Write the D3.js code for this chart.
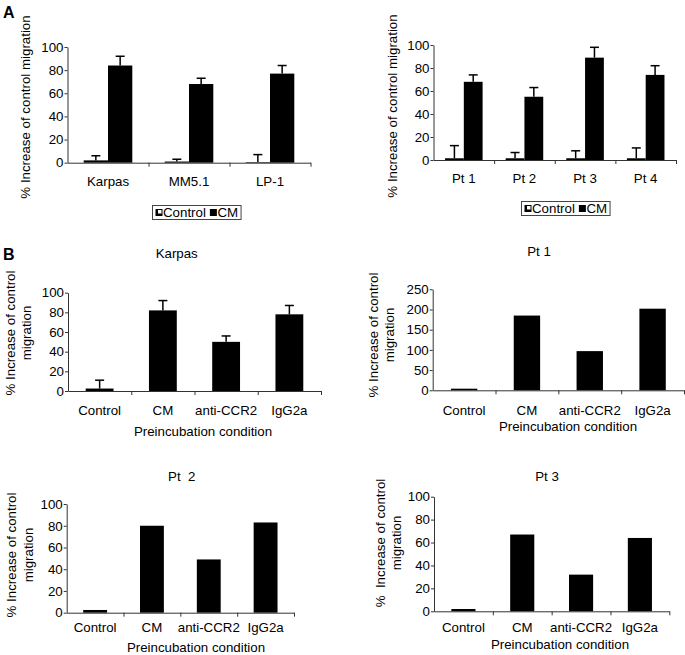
<!DOCTYPE html>
<html><head><meta charset="utf-8">
<script src="https://cdn.jsdelivr.net/npm/d3@7/dist/d3.min.js"></script>
<style>
body{margin:0;background:#fff;}
svg{display:block;font-family:"Liberation Sans",Arial,Helvetica,sans-serif;}
text{white-space:pre;}
</style></head>
<body><svg id="c" width="685" height="655"></svg>
<script>
// ---------- data ----------
const seriesNames = ["Control", "CM"];

const aCellLines = ["Karpas", "MM5.1", "LP-1"];
const aCellControl = [2, 1, 0.5];
const aCellControlErr = [4, 2, 6.5];
const aCellCM = [84, 68, 77];
const aCellCMErr = [8, 5, 7];

const aPatients = ["Pt 1", "Pt 2", "Pt 3", "Pt 4"];
const aPatControl = [1.5, 1.5, 1.5, 1.5];
const aPatControlErr = [11, 5, 6.5, 9];
const aPatCM = [68, 55, 89, 74];
const aPatCMErr = [6, 8, 9, 8];

const conditions = ["Control", "CM", "anti-CCR2", "IgG2a"];
const bKarpas = [2.5, 82, 50, 78];
const bKarpasErr = [8.5, 10, 6, 9];
const bPt1 = [4, 185, 97, 202];
const bPt2 = [2.5, 80, 49, 83];
const bPt3 = [2, 67, 32, 64];

const yTicks100 = [0, 20, 40, 60, 80, 100];
const yTicks250 = [0, 50, 100, 150, 200, 250];

// ---------- drawing ----------
const svg = d3.select("#c");
const FS = 13.3;
const AX = "#333";

function axes(g, cfg, xBand, y, cats) {
  // y axis
  const ya = g.append("g").attr("transform", `translate(${cfg.x0},0)`)
    .call(d3.axisLeft(y).tickValues(cfg.yTicks).tickSize(3).tickSizeOuter(0).tickPadding(1));
  ya.select(".domain").attr("stroke", AX);
  ya.selectAll(".tick line").attr("stroke", AX);
  ya.selectAll("text").attr("font-size", FS).attr("fill", "#000").attr("font-family", null);
  // x boundary ticks
  const xb = d3.scaleLinear().domain([0, cats.length]).range([cfg.x0, cfg.x1]);
  const xa = g.append("g").attr("transform", `translate(0,${cfg.yb})`)
    .call(d3.axisBottom(xb).tickValues(d3.range(1, cats.length + 1)).tickFormat("").tickSize(4).tickSizeOuter(0));
  xa.select(".domain").attr("stroke", AX);
  xa.selectAll(".tick line").attr("stroke", AX);
  // x labels
  const xl = g.append("g").attr("transform", `translate(0,${cfg.yb})`)
    .call(d3.axisBottom(xBand).tickSize(0).tickPadding(cfg.lblPad));
  xl.select(".domain").remove();
  xl.selectAll("text").attr("font-size", FS).attr("fill", "#000").attr("font-family", null);
}

function ylabel(g, lines, cx, cy, gap) {
  lines.forEach((t, i) => {
    g.append("text")
      .attr("transform", `translate(${cx[i]},${cy}) rotate(-90)`)
      .attr("text-anchor", "middle").attr("dy", "0.35em")
      .attr("font-size", FS).text(t);
  });
}

function errBars(g, xs, tops, bottoms) {
  xs.forEach((x, i) => {
    g.append("line").attr("x1", x).attr("x2", x).attr("y1", bottoms[i]).attr("y2", tops[i])
      .attr("stroke", "#000").attr("stroke-width", 1.5);
    g.append("line").attr("x1", x - 4.5).attr("x2", x + 4.5).attr("y1", tops[i]).attr("y2", tops[i])
      .attr("stroke", "#000").attr("stroke-width", 1.5);
  });
}

function groupedPanel(cfg) {
  const g = svg.append("g");
  const cats = cfg.cats;
  const x0 = d3.scaleBand().domain(cats).range([cfg.x0, cfg.x1])
    .paddingInner(cfg.pad).paddingOuter(cfg.pad / 2);
  const x1 = d3.scaleBand().domain(seriesNames).range([0, x0.bandwidth()]);
  const y = d3.scaleLinear().domain([0, cfg.yMax]).range([cfg.yb, cfg.yt]);
  const vals = [cfg.control, cfg.cm];
  const errs = [cfg.controlErr, cfg.cmErr];
  seriesNames.forEach((s, si) => {
    g.selectAll(null).data(cats).enter().append("rect")
      .attr("x", d => x0(d) + x1(s))
      .attr("width", x1.bandwidth())
      .attr("y", (d, i) => y(vals[si][i]))
      .attr("height", (d, i) => cfg.yb - y(vals[si][i]))
      .attr("fill", "#000");
    errBars(g, cats.map(d => x0(d) + x1(s) + x1.bandwidth() / 2),
      cats.map((d, i) => y(vals[si][i] + errs[si][i])),
      cats.map((d, i) => y(vals[si][i])));
  });
  axes(g, cfg, x0, y, cats);
  ylabel(g, cfg.ylab, cfg.ylx, cfg.yly);
  // legend
  const lg = g.append("g").attr("transform", `translate(${cfg.leg[0]},${cfg.leg[1]})`);
  const box = lg.append("rect").attr("x", 0).attr("y", 0).attr("height", 14)
    .attr("fill", "#fff").attr("stroke", "#444").attr("stroke-width", 1);
  let cx = 3;
  seriesNames.forEach((s, i) => {
    if (i === 0) {
      lg.append("rect").attr("x", cx).attr("y", 3.5).attr("width", 7).attr("height", 7)
        .attr("fill", "#000");
      lg.append("rect").attr("x", cx + 2.5).attr("y", 4.5).attr("width", 3.5).attr("height", 3.5)
        .attr("fill", "#fff");
    } else {
      lg.append("rect").attr("x", cx).attr("y", 3.5).attr("width", 7).attr("height", 7).attr("fill", "#000");
    }
    const t = lg.append("text").attr("x", cx + 7.5).attr("y", 11.8).attr("font-size", FS).text(s);
    cx += 7.5 + t.node().getComputedTextLength() + 4;
  });
  box.attr("width", cx - 1);
}

function singlePanel(cfg) {
  const g = svg.append("g");
  const cats = conditions;
  const x = d3.scaleBand().domain(cats).range([cfg.x0, cfg.x1])
    .paddingInner(cfg.pad).paddingOuter(cfg.pad / 2);
  const y = d3.scaleLinear().domain([0, cfg.yMax]).range([cfg.yb, cfg.yt]);
  g.selectAll(null).data(cats).enter().append("rect")
    .attr("x", d => x(d)).attr("width", x.bandwidth())
    .attr("y", (d, i) => y(cfg.vals[i]))
    .attr("height", (d, i) => cfg.yb - y(cfg.vals[i]))
    .attr("fill", "#000");
  if (cfg.errs) {
    errBars(g, cats.map(d => x(d) + x.bandwidth() / 2),
      cats.map((d, i) => y(cfg.vals[i] + cfg.errs[i])),
      cats.map((d, i) => y(cfg.vals[i])));
  }
  axes(g, cfg, x, y, cats);
  ylabel(g, cfg.ylab, cfg.ylx, cfg.yly);
  g.append("text").attr("x", cfg.title[1]).attr("y", cfg.title[2]).attr("text-anchor", "middle")
    .attr("font-size", FS).text(cfg.title[0]);
  g.append("text").attr("x", cfg.xlab[0]).attr("y", cfg.xlab[1]).attr("text-anchor", "middle")
    .attr("font-size", FS).text("Preincubation condition");
}

// Panel letters
svg.append("text").attr("x", 3).attr("y", 18).attr("font-size", 16).attr("font-weight", "bold").text("A");
svg.append("text").attr("x", 3).attr("y", 260).attr("font-size", 16).attr("font-weight", "bold").text("B");

groupedPanel({cats: aCellLines, control: aCellControl, controlErr: aCellControlErr, cm: aCellCM, cmErr: aCellCMErr,
  x0: 67.5, x1: 310.5, yb: 162.7, yt: 47, yMax: 100, yTicks: yTicks100, pad: 0.4, lblPad: 14,
  ylab: ["% Increase of control migration"], ylx: [25], yly: 107, leg: [152.5, 205.5]});

groupedPanel({cats: aPatients, control: aPatControl, controlErr: aPatControlErr, cm: aPatCM, cmErr: aPatCMErr,
  x0: 433.5, x1: 676, yb: 160, yt: 45, yMax: 100, yTicks: yTicks100, pad: 0.38, lblPad: 14,
  ylab: ["% Increase of control migration"], ylx: [392.5], yly: 106, leg: [521.5, 201.5]});

singlePanel({vals: bKarpas, errs: bKarpasErr, x0: 68, x1: 321, yb: 391, yt: 292.7, yMax: 100, yTicks: yTicks100,
  pad: 0.56, lblPad: 14.5, ylab: ["% Increase of control", "migration"], ylx: [10.5, 26.5], yly: 333,
  title: ["Karpas", 176.7, 258], xlab: [203, 436]});

singlePanel({vals: bPt1, x0: 432.7, x1: 684, yb: 390.3, yt: 289.3, yMax: 250, yTicks: yTicks250,
  pad: 0.58, lblPad: 15, ylab: ["% Increase of control", "migration"], ylx: [373, 389.5], yly: 335,
  title: ["Pt 1", 539, 255.5], xlab: [568, 431]});

singlePanel({vals: bPt2, x0: 66.7, x1: 294, yb: 612.7, yt: 504, yMax: 100, yTicks: yTicks100,
  pad: 0.58, lblPad: 9.5, ylab: ["% Increase of control", "migration"], ylx: [11.7, 28], yly: 555,
  title: ["Pt  2", 181.7, 481], xlab: [196, 652]});

singlePanel({vals: bPt3, x0: 434, x1: 669.3, yb: 611.3, yt: 496.7, yMax: 100, yTicks: yTicks100,
  pad: 0.59, lblPad: 11, ylab: ["%  Increase of control", "migration"], ylx: [380, 396.5], yly: 543,
  title: ["Pt 3", 547, 481], xlab: [560, 649]});
</script></body></html>
